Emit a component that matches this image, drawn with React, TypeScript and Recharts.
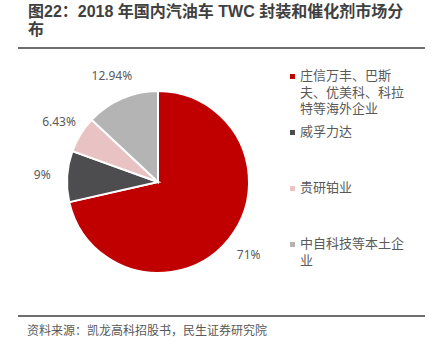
import React from "react";
import { PieChart, Pie, Cell, Legend } from "recharts";

const categories = [
  "庄信万丰、巴斯夫、优美科、科拉特等海外企业",
  "威孚力达",
  "贵研铂业",
  "中自科技等本土企业",
];
const legendLines = [
  ["庄信万丰、巴斯", "夫、优美科、科拉", "特等海外企业"],
  ["威孚力达"],
  ["贵研铂业"],
  ["中自科技等本土企", "业"],
];
const values = [71, 9, 6.43, 12.94];
const valueLabels = ["71%", "9%", "6.43%", "12.94%"];
const colors = ["#C00000", "#4D4D4F", "#E9C3C3", "#B4B4B4"];

const data = categories.map((name, i) => ({ name, value: values[i], label: valueLabels[i] }));

const RAD = Math.PI / 180;
const cjkFont = "'Liberation Sans', 'Noto Sans CJK SC', sans-serif";

const renderLabel = (props: any) => {
  const { cx, cy, midAngle, outerRadius, index } = props;
  const r = outerRadius + 25;
  const x = cx + r * Math.cos(-midAngle * RAD);
  const y = cy + r * Math.sin(-midAngle * RAD);
  return (
    <text
      x={x}
      y={y}
      textAnchor="middle"
      dominantBaseline="central"
      fill="#595959"
      fontSize={12}
      fontFamily="'Noto Sans', 'Liberation Sans', sans-serif"
    >
      {valueLabels[index]}
    </text>
  );
};

const renderLegend = () => (
  <div style={{ fontFamily: cjkFont, fontSize: 13, color: "#595959" }}>
    {legendLines.map((lines, i) => (
      <div key={i} style={{ height: 56, position: "relative", paddingLeft: 10, lineHeight: "16.5px" }}>
        <span
          style={{
            position: "absolute",
            left: 0,
            top: 6,
            width: 5,
            height: 5,
            background: colors[i],
          }}
        />
        {lines.map((l, j) => (
          <div key={j} style={{ whiteSpace: "nowrap" }}>{l}</div>
        ))}
      </div>
    ))}
  </div>
);

export default function App() {
  return (
    <div
      style={{
        position: "absolute",
        left: 0,
        top: 0,
        width: 437,
        height: 354,
        background: "#fff",
        overflow: "hidden",
      }}
    >
      <div
        style={{
          position: "absolute",
          left: 28,
          top: 3,
          fontFamily: cjkFont,
          fontWeight: 700,
          fontSize: 16,
          lineHeight: "17.5px",
          color: "#404040",
          whiteSpace: "nowrap",
        }}
      >
        <div>图22：2018 年国内汽油车 TWC 封装和催化剂市场分</div>
        <div>布</div>
      </div>
      <div style={{ position: "absolute", left: 18, top: 47, width: 407, height: 2, background: "#6E6E6E" }} />
      <div style={{ position: "absolute", left: 0, top: 0 }}>
        <PieChart width={437} height={354}>
          <Pie
            data={data}
            dataKey="value"
            nameKey="name"
            cx={153}
            cy={177}
            outerRadius={91}
            startAngle={90}
            endAngle={-270}
            stroke="#FFFFFF"
            strokeWidth={2}
            label={renderLabel}
            labelLine={false}
            isAnimationActive={false}
          >
            {data.map((d, i) => (
              <Cell key={i} fill={colors[i]} />
            ))}
          </Pie>
          <Legend
            layout="vertical"
            align="right"
            verticalAlign="top"
            content={renderLegend}
            wrapperStyle={{ left: 290, top: 68, width: 140 }}
          />
        </PieChart>
      </div>
      <div style={{ position: "absolute", left: 18, top: 315, width: 407, height: 2, background: "#6E6E6E" }} />
      <div
        style={{
          position: "absolute",
          left: 27,
          top: 321,
          fontFamily: cjkFont,
          fontSize: 12,
          color: "#595959",
          whiteSpace: "nowrap",
        }}
      >
        资料来源：凯龙高科招股书，民生证券研究院
      </div>
    </div>
  );
}
